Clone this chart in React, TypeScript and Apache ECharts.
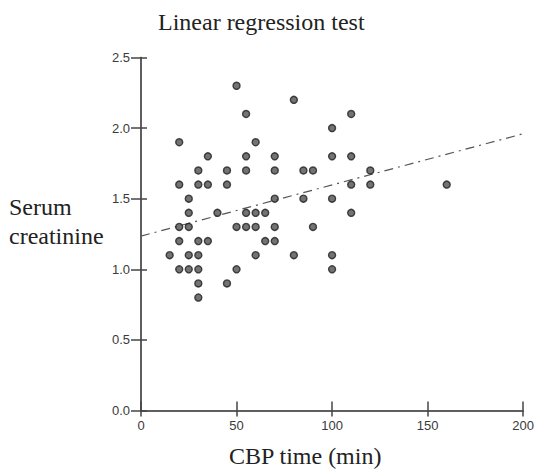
import React, { useEffect, useRef } from "react";
import * as echarts from "echarts";

const cbpTime: number[] = [
  50, 80, 55, 20, 60, 35, 55, 70, 30, 45, 55, 70, 85, 90,
  20, 30, 35, 45, 25, 70, 85, 25, 40, 55, 60, 65,
  20, 25, 50, 55, 60, 70, 90, 20, 30, 35, 65, 70,
  15, 25, 30, 60, 80, 20, 25, 30, 50, 30, 45, 30,
  110, 100, 100, 110, 120, 110, 120, 160, 100, 110, 100, 100,
];
const creatinine: number[] = [
  2.3, 2.2, 2.1, 1.9, 1.9, 1.8, 1.8, 1.8, 1.7, 1.7, 1.7, 1.7, 1.7, 1.7,
  1.6, 1.6, 1.6, 1.6, 1.5, 1.5, 1.5, 1.4, 1.4, 1.4, 1.4, 1.4,
  1.3, 1.3, 1.3, 1.3, 1.3, 1.3, 1.3, 1.2, 1.2, 1.2, 1.2, 1.2,
  1.1, 1.1, 1.1, 1.1, 1.1, 1.0, 1.0, 1.0, 1.0, 0.9, 0.9, 0.8,
  2.1, 2.0, 1.8, 1.8, 1.7, 1.6, 1.6, 1.6, 1.5, 1.4, 1.1, 1.0,
];
const fitX: number[] = [0, 200];
const fitY: number[] = [1.235, 1.96];

const xTicks = { min: 0, max: 200, interval: 50 };
const yTicks = { min: 0, max: 2.5, interval: 0.5 };

const titleText = "Linear regression test";
const yTitle = "Serum\ncreatinine";
const xTitle = "CBP time (min)";

export default function App() {
  const ref = useRef<HTMLDivElement>(null);
  useEffect(() => {
    if (!ref.current) return;
    const chart = echarts.init(ref.current, undefined, { renderer: "svg" });
    const serif = "'Liberation Serif', 'Times New Roman', serif";
    const sans = "'Liberation Sans', Arial, sans-serif";
    const axisCommon = {
      type: "value" as const,
      axisLine: { show: true, lineStyle: { color: "#555", width: 1.5 } },
      splitLine: { show: false },
    };
    chart.setOption({
      animation: false,
      backgroundColor: "#fff",
      grid: { left: 141, right: 11, top: 57.5, bottom: 58.5, containLabel: false },
      xAxis: [
        {
          ...axisCommon,
          ...xTicks,
          axisTick: { show: true, inside: false, length: 6, lineStyle: { color: "#444", width: 1.5 } },
          axisLabel: { color: "#3a3a3a", fontFamily: sans, fontSize: 13, margin: 8 },
        },
        {
          ...axisCommon,
          ...xTicks,
          position: "bottom",
          axisTick: { show: true, inside: true, length: 9, lineStyle: { color: "#444", width: 1.5 } },
          axisLabel: { show: false },
        },
      ],
      yAxis: [
        {
          ...axisCommon,
          ...yTicks,
          axisTick: { show: true, inside: false, length: 10, lineStyle: { color: "#444", width: 1.5 } },
          axisLabel: {
            color: "#3a3a3a",
            fontFamily: sans,
            fontSize: 13,
            margin: 11,
            formatter: (v: number) => v.toFixed(1),
          },
        },
        {
          ...axisCommon,
          ...yTicks,
          position: "left",
          axisTick: { show: true, inside: true, length: 6, lineStyle: { color: "#444", width: 1.5 } },
          axisLabel: { show: false },
        },
      ],
      graphic: [
        {
          type: "text",
          left: 158,
          top: 10,
          style: { text: titleText, font: `24px ${serif}`, fill: "#222" },
        },
        {
          type: "text",
          left: 9,
          top: 192,
          style: { text: yTitle, font: `24px ${serif}`, fill: "#222", lineHeight: 29 },
        },
        {
          type: "text",
          left: 229,
          top: 444,
          style: { text: xTitle, font: `24px ${serif}`, fill: "#222" },
        },
      ],
      series: [
        {
          type: "scatter",
          xAxisIndex: 0,
          yAxisIndex: 0,
          data: cbpTime.map((x, i) => [x, creatinine[i]]),
          symbol: "circle",
          symbolSize: 7,
          itemStyle: { color: "#505050", borderColor: "#1e1e1e", borderWidth: 1.4 },
          z: 3,
        },
        {
          type: "line",
          xAxisIndex: 0,
          yAxisIndex: 0,
          data: fitX.map((x, i) => [x, fitY[i]]),
          showSymbol: false,
          symbol: "none",
          lineStyle: { color: "#555", width: 1.2, type: [9, 5, 2, 5] },
          z: 2,
        },
      ],
    });
    return () => chart.dispose();
  }, []);
  return (
    <div
      ref={ref}
      style={{ position: "fixed", left: 0, top: 0, width: 537, height: 469, background: "#fff" }}
    />
  );
}
